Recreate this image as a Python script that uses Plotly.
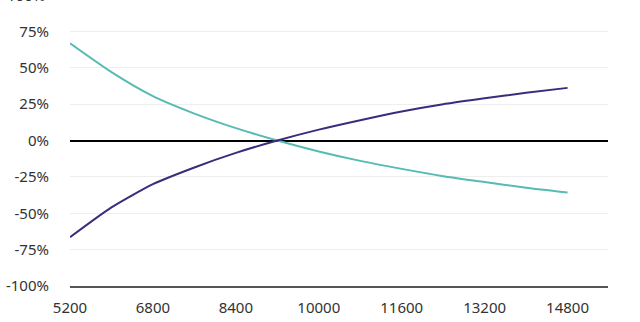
import plotly.graph_objects as go

x_vals = [5200, 6000, 6800, 7600, 8400, 9200, 10000, 10800, 11600, 12400, 13200, 14000, 14800]
teal_vals = [66.8, 47.0, 30.5, 18.5, 8.5, 0.0, -7.5, -14.0, -19.5, -24.5, -28.5, -32.5, -35.8]
purple_vals = [-66.5, -46.0, -30.0, -18.5, -8.5, 0.0, 7.5, 14.0, 20.0, 25.0, 29.0, 32.8, 36.2]
x_ticks = [5200, 6800, 8400, 10000, 11600, 13200, 14800]
y_ticks = [-100, -75, -50, -25, 0, 25, 50, 75, 100]
y_tick_text = ["-100%", "-75%", "-50%", "-25%", "0%", "25%", "50%", "75%", "100%"]

font_family = "Noto Sans"
fig = go.Figure()
fig.add_trace(go.Scatter(x=x_vals, y=teal_vals, mode="lines", line_shape="spline",
                         line=dict(color="#56bbb3", width=2, smoothing=0.6), showlegend=False))
fig.add_trace(go.Scatter(x=x_vals, y=purple_vals, mode="lines", line_shape="spline",
                         line=dict(color="#3a2c7c", width=2, smoothing=0.6), showlegend=False))

y_lo, y_hi = -100, 96.6
fig.update_layout(
    width=640, height=322,
    margin=dict(l=70, r=32, t=0, b=36),
    paper_bgcolor="white", plot_bgcolor="white",
    font=dict(family=font_family, size=15, color="#333333"),
    xaxis=dict(range=[5200, 15580], tickvals=x_ticks, ticktext=[str(v) for v in x_ticks],
               showgrid=False, zeroline=False, showline=True, linecolor="#555555",
               linewidth=2, ticks="", ticklabelstandoff=7),
    yaxis=dict(range=[y_lo, y_hi], tickvals=y_ticks, ticktext=y_tick_text,
               showgrid=True, gridcolor="#eeeeee", gridwidth=1,
               zeroline=True, zerolinecolor="#000000", zerolinewidth=2,
               showline=False, ticks="", ticklabelstandoff=20),
)
# partially visible top label (100%) above the plot area, cut off as in the reference
fig.add_annotation(xref="paper", yref="paper", x=-(23 / 538), y=(100 - y_lo) / (y_hi - y_lo),
                   text=y_tick_text[-1], showarrow=False, xanchor="right", yanchor="middle",
                   font=dict(family=font_family, size=15, color="#333333"))
fig.write_html("out.html")
